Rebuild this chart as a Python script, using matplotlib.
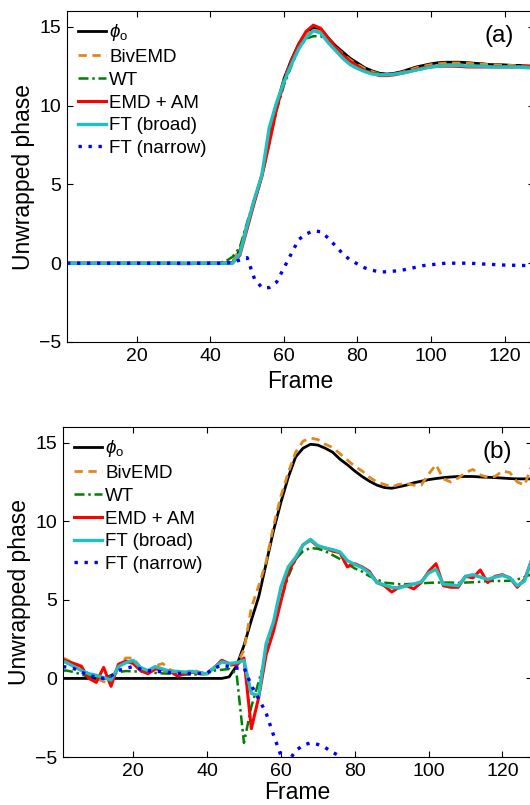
import numpy as np
import matplotlib
matplotlib.use("Agg")
import matplotlib.pyplot as plt

plt.rcParams['font.family'] = ['Liberation Sans', 'DejaVu Sans']
plt.rcParams['mathtext.fontset'] = 'custom'
plt.rcParams['mathtext.rm'] = 'Liberation Sans'
plt.rcParams['mathtext.it'] = 'Liberation Sans:italic'

# frame grid shared by every series
frames = np.r_[1, np.arange(2, 129, 2)]

labels = [r'$\phi_\mathrm{o}$', 'BivEMD', 'WT', 'EMD + AM', 'FT (broad)', 'FT (narrow)']

# ---- panel (a) ----
phi_a = [0, 0, 0, 0, 0, 0, 0, 0, 0, 0,
         0, 0, 0, 0, 0, 0, 0, 0, 0, 0,
         0, 0, 0, 0.05, 0.8, 2.4, 4.0, 5.6, 7.9, 10.0,
         11.7, 12.9, 13.9, 14.6, 14.95, 14.85, 14.3, 13.8, 13.4, 13.0,
         12.7, 12.4, 12.2, 12.05, 12.0, 12.05, 12.15, 12.3, 12.45, 12.55,
         12.65, 12.72, 12.75, 12.75, 12.75, 12.72, 12.68, 12.65, 12.6, 12.6,
         12.58, 12.55, 12.55, 12.52, 12.5]
biv_a = [0, 0, 0, 0, 0, 0, 0, 0, 0, 0,
         0, 0, 0, 0, 0, 0, 0, 0, 0, 0,
         0, 0, 0.02, 0.1, 0.9, 2.5, 4.0, 5.6, 7.8, 9.9,
         11.6, 12.8, 13.8, 14.5, 14.8, 14.7, 14.2, 13.7, 13.3, 12.9,
         12.6, 12.35, 12.15, 12.0, 11.95, 12.0, 12.1, 12.25, 12.4, 12.5,
         12.6, 12.65, 12.7, 12.7, 12.7, 12.68, 12.65, 12.62, 12.6, 12.58,
         12.55, 12.55, 12.52, 12.5, 12.5]
wt_a = [0, 0, 0, 0, 0, 0, 0, 0, 0, 0,
        0, 0, 0, 0, 0, 0, 0, 0, 0, 0,
        0, 0.02, 0.1, 0.4, 1.0, 2.6, 4.1, 5.5, 7.6, 9.7,
        11.3, 12.5, 13.6, 14.25, 14.4, 14.4, 14.1, 13.6, 13.2, 12.8,
        12.5, 12.25, 12.1, 12.0, 11.95, 12.0, 12.05, 12.15, 12.25, 12.35,
        12.45, 12.5, 12.55, 12.55, 12.55, 12.52, 12.5, 12.5, 12.48, 12.48,
        12.47, 12.47, 12.46, 12.45, 12.45]
emd_a = [0, 0, 0, 0, 0, 0, 0, 0, 0, 0,
         0, 0, 0, 0, 0, -0.02, -0.03, -0.03, -0.02, 0,
         0, 0, 0, 0.0, 0.5, 2.2, 3.9, 5.5, 7.6, 9.8,
         11.5, 12.8, 13.9, 14.7, 15.1, 14.9, 14.3, 13.7, 13.2, 12.8,
         12.5, 12.2, 12.05, 11.9, 11.9, 11.95, 12.05, 12.15, 12.3, 12.4,
         12.45, 12.5, 12.5, 12.5, 12.48, 12.45, 12.45, 12.45, 12.45, 12.45,
         12.45, 12.45, 12.45, 12.45, 12.45]
ftb_a = [0, 0, 0, 0, 0, 0, 0, 0, 0, 0,
         0, 0, 0, 0, 0, 0, 0, 0, 0, 0,
         0, 0, 0, 0.0, 0.6, 2.4, 4.1, 5.6, 8.6, 10.2,
         11.5, 12.6, 13.6, 14.3, 14.75, 14.6, 14.0, 13.5, 13.0, 12.6,
         12.35, 12.15, 12.0, 11.95, 11.95, 12.0, 12.05, 12.15, 12.25, 12.35,
         12.45, 12.5, 12.55, 12.55, 12.55, 12.5, 12.5, 12.5, 12.45, 12.45,
         12.45, 12.45, 12.45, 12.4, 12.4]
ftn_a = [0, 0, 0, 0, 0, 0, 0, 0, 0, 0,
         0, 0, 0, 0, 0, 0, 0, 0, 0, 0,
         0, 0, 0, 0.05, 0.2, 0.35, -1.0, -1.55, -1.55, -1.2,
         -0.3, 0.6, 1.5, 1.85, 2.05, 2.0, 1.6, 1.1, 0.6, 0.2,
         -0.05, -0.3, -0.45, -0.55, -0.55, -0.5, -0.45, -0.35, -0.25, -0.15,
         -0.1, -0.05, 0.0, 0.0, 0.0, 0.0, -0.02, -0.05, -0.07, -0.1,
         -0.12, -0.13, -0.14, -0.15, -0.15]

# ---- panel (b) ----
phi_b = [0, 0, 0, 0, 0, 0, 0, 0, 0, 0,
         0, 0, 0, 0, 0, 0, 0, 0, 0, 0,
         0, 0, 0, 0.1, 0.8, 2.1, 3.7, 5.2, 7.3, 9.4,
         11.2, 12.8, 14.1, 14.65, 14.9, 14.85, 14.65, 14.4, 13.95, 13.6,
         13.2, 12.85, 12.55, 12.3, 12.15, 12.1, 12.2, 12.3, 12.45, 12.55,
         12.65, 12.72, 12.78, 12.82, 12.85, 12.85, 12.85, 12.82, 12.8, 12.78,
         12.75, 12.72, 12.7, 12.7, 12.7]
biv_b = [1.3, 1.2, 0.95, 0.8, 0.2, 0.0, -0.2, -0.35, 0.7, 1.3,
         1.3, 0.7, 0.45, 0.8, 0.95, 0.55, 0.4, 0.35, 0.55, 0.4,
         0.35, 0.7, 1.15, 0.8, 0.9, 1.8, 4.5, 5.9, 7.4, 9.7,
         11.6, 13.1, 14.4, 15.1, 15.3, 15.2, 14.9, 14.7, 14.3, 13.9,
         13.5, 13.2, 12.8, 12.5, 12.35, 12.2, 12.35, 12.4, 12.3, 12.3,
         13.0, 13.6, 12.7, 12.5, 12.75, 13.1, 13.3, 12.95, 12.8, 12.85,
         13.2, 13.1, 12.5, 12.3, 13.6]
wt_b = [0.5, 0.5, 0.4, 0.25, 0.1, 0.05, 0.0, 0.2, 0.4, 0.47,
        0.45, 0.43, 0.4, 0.35, 0.32, 0.3, 0.27, 0.25, 0.25, 0.25,
        0.3, 0.5, 0.55, 0.6, 0.3, -4.1, -1.8, -0.2, 1.5, 3.4,
        5.0, 6.5, 7.6, 8.1, 8.3, 8.25, 8.1, 7.85, 7.6, 7.3,
        7.0, 6.8, 6.5, 6.3, 6.1, 6.05, 6.0, 6.0, 6.02, 6.05,
        6.08, 6.1, 6.1, 6.1, 6.08, 6.1, 6.12, 6.15, 6.2, 6.2,
        6.2, 6.22, 6.3, 6.45, 6.65]
emd_b = [1.2, 1.1, 0.95, 0.75, 0.0, -0.25, 0.7, -0.5, 0.9, 1.1,
         0.95, 0.5, 0.3, 0.6, 0.55, 0.45, 0.15, 0.3, 0.4, 0.3,
         0.3, 0.7, 1.15, 0.95, 0.85, 1.3, -3.2, -1.2, 1.5, 3.0,
         4.9, 6.8, 7.6, 8.5, 8.8, 8.4, 8.3, 8.1, 8.0, 7.1,
         7.3, 7.1, 6.8, 6.1, 5.9, 5.5, 5.8, 5.9, 5.7, 6.1,
         6.8, 7.3, 5.9, 5.8, 5.8, 6.5, 6.4, 6.9, 6.1, 6.5,
         6.6, 6.4, 5.8, 6.3, 7.6]
ftb_b = [1.1, 1.0, 0.75, 0.5, 0.3, 0.2, 0.05, -0.1, 0.75, 1.0,
         1.15, 0.7, 0.5, 0.75, 0.6, 0.45, 0.45, 0.4, 0.45, 0.35,
         0.3, 0.7, 1.05, 0.95, 1.0, 1.15, -0.95, -1.1, 2.2, 3.6,
         5.8, 7.1, 7.7, 8.5, 8.85, 8.45, 8.3, 8.2, 8.05, 7.5,
         7.25, 7.05, 6.7, 6.1, 5.95, 5.8, 5.75, 5.9, 6.0, 6.15,
         6.7, 6.95, 6.0, 5.95, 5.9, 6.5, 6.6, 6.45, 6.3, 6.45,
         6.55, 6.4, 5.9, 6.2, 7.6]
ftn_b = [0.75, 0.72, 0.62, 0.4, 0.2, 0.08, 0.0, 0.15, 0.5, 0.65,
         0.75, 0.6, 0.5, 0.45, 0.42, 0.38, 0.32, 0.32, 0.32, 0.32,
         0.35, 0.65, 0.85, 0.75, 0.65, 0.7, -0.45, -1.3, -2.2, -3.6,
         -4.9, -5.3, -4.6, -4.25, -4.1, -4.2, -4.4, -4.7, -4.95, -5.3,
         np.nan, np.nan, np.nan, np.nan, np.nan, np.nan, np.nan, np.nan, np.nan, np.nan,
         np.nan, np.nan, np.nan, np.nan, np.nan, np.nan, np.nan, np.nan, np.nan, np.nan,
         np.nan, np.nan, np.nan, np.nan, np.nan]

# colour, linestyle, linewidth for each method
styles = [('black', '-', 2.0),
          ('#e0881c', (0, (3, 2)), 2.0),
          ('#008000', (0, (4, 1.5, 1, 1.5)), 1.8),
          ('#ff0000', '-', 2.2),
          ('#20c0c0', '-', 2.4),
          ('#0000ff', (0, (1, 2)), 2.4)]


def draw(ax, series, tag, xpad):
    for y, lab, (c, ls, lw) in zip(series, labels, styles):
        ax.plot(frames, y, color=c, linestyle=ls, linewidth=lw, label=lab)
    ax.set_xlim(1, 128)
    ax.set_ylim(-5, 16)
    ax.set_xticks([20, 40, 60, 80, 100, 120])
    ax.set_yticks([-5, 0, 5, 10, 15])
    ax.tick_params(direction='in', length=4, top=True, right=True,
                   labelsize=14, pad=4)
    ax.set_xlabel('Frame', fontsize=16.5, labelpad=xpad)
    ax.set_ylabel('Unwrapped phase', fontsize=16.5, labelpad=3)
    ax.text(0.925, 0.925, tag, transform=ax.transAxes, fontsize=17.5,
            ha='center', va='center')
    ax.legend(loc='upper left', frameon=False, fontsize=13.5, handlelength=1.5,
              handletextpad=0.15, labelspacing=0.3, borderaxespad=0.5,
              borderpad=0.1)


fig = plt.figure(figsize=(5.3, 8.05), dpi=100)
ax1 = fig.add_axes([67 / 530, 1 - 342 / 805, 467 / 530, 331 / 805])
ax2 = fig.add_axes([63 / 530, 1 - 757 / 805, 469 / 530, 330 / 805])

draw(ax1, [phi_a, biv_a, wt_a, emd_a, ftb_a, ftn_a], '(a)', 4)
draw(ax2, [phi_b, biv_b, wt_b, emd_b, ftb_b, ftn_b], '(b)', 1)

fig.savefig('out.png', dpi=100)
